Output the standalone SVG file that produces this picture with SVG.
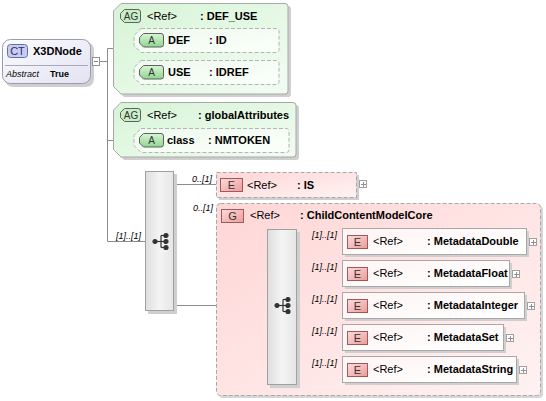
<svg xmlns="http://www.w3.org/2000/svg" width="546" height="401" viewBox="0 0 546 401">
<defs>
<linearGradient id="gCT" x1="0" y1="0" x2="1" y2="1"><stop offset="0" stop-color="#fcfcff"/><stop offset="1" stop-color="#e2e2f2"/></linearGradient>
<linearGradient id="gAG" x1="0" y1="0" x2="1" y2="1"><stop offset="0" stop-color="#d6f4d6"/><stop offset="1" stop-color="#f2fcf2"/></linearGradient>
<linearGradient id="gA" x1="0" y1="0" x2="1" y2="1"><stop offset="0" stop-color="#eefaee"/><stop offset="1" stop-color="#fbfffb"/></linearGradient>
<linearGradient id="gBadgeG" x1="0" y1="0" x2="0" y2="1"><stop offset="0" stop-color="#d8f4d8"/><stop offset="1" stop-color="#8ed68e"/></linearGradient>
<linearGradient id="gBadgeE" x1="0" y1="0" x2="1" y2="1"><stop offset="0" stop-color="#fcdcdc"/><stop offset="1" stop-color="#ee9a9a"/></linearGradient>
<linearGradient id="gPink" x1="0" y1="0" x2="1" y2="1"><stop offset="0" stop-color="#ffd6d6"/><stop offset="1" stop-color="#fff2f2"/></linearGradient>
<linearGradient id="gE" x1="0" y1="0" x2="1" y2="1"><stop offset="0" stop-color="#fff4f4"/><stop offset="1" stop-color="#ffffff"/></linearGradient>
<linearGradient id="gSeq" x1="0" y1="0" x2="1" y2="0"><stop offset="0" stop-color="#dedede"/><stop offset="0.5" stop-color="#f4f4f4"/><stop offset="1" stop-color="#e6e6e6"/></linearGradient>
<g id="seqIcon">
<line x1="0" y1="0" x2="6" y2="0"/><line x1="6" y1="-6" x2="6" y2="6"/>
<line x1="6" y1="-6" x2="11" y2="-6"/><line x1="6" y1="6" x2="11" y2="6"/><line x1="6" y1="0" x2="11" y2="0"/>
<circle cx="0" cy="0" r="2"/><circle cx="11" cy="-6" r="2"/><circle cx="11" cy="0" r="2"/><circle cx="11" cy="6" r="2"/>
</g>
<g id="plus"><rect x="0.5" y="0.5" width="7" height="7" fill="#fff" stroke="#a0a0a0"/><path d="M2,4.5 H7 M4.5,2 V7" stroke="#909090" fill="none"/></g>
</defs>
<style>
.t{font-family:"Liberation Sans",Arial,sans-serif;font-size:11px;fill:#000}
.b{font-weight:bold}
.m{font-family:"Liberation Sans",Arial,sans-serif;font-size:9px;font-style:italic;fill:#000}
.bt{font-family:"Liberation Sans",Arial,sans-serif;font-size:10px;fill:#333;text-anchor:middle}
.sh{fill:#cfcfcf}
.ln{stroke:#8c8c8c;stroke-width:1;fill:none}
.ag{fill:url(#gAG);stroke:#a8a8a8}
.ab{fill:url(#gA);stroke:#b4b4b4;stroke-dasharray:4,2}
.abadge{fill:url(#gBadgeG);stroke:#606060}
.ebadge{fill:url(#gBadgeE);stroke:#a05a5a}
.ebox{fill:url(#gE);stroke:#a8a8a8}
.seq{fill:url(#gSeq);stroke:#a0a0a0}
.icon{stroke:#333;fill:#333;stroke-width:1.2}
</style>

<g id="connectors" class="ln">
<path d="M99.5,61.5 H107.5"/>
<path d="M107.5,48.5 V241.5"/>
<path d="M107.5,48.5 H125.5"/>
<path d="M125.5,40.5 V72.5"/>
<path d="M125.5,40.5 H134 M125.5,72.5 H134"/>
<path d="M107.5,140.5 H134"/>
<path d="M107.5,241.5 H145"/>
<path d="M174,184.5 H216"/>
<path d="M174,305.5 H267"/>
<path d="M297,241.5 H342 M297,273.5 H342 M297,305.5 H342 M297,337.5 H342 M297,369.5 H342"/>
</g>

<g id="X3DNode">
<rect x="5" y="42" width="89" height="45" rx="8" class="sh"/>
<rect x="2.5" y="39.5" width="88" height="44" rx="8" fill="url(#gCT)" stroke="#9a9ab2"/>
<rect x="7.5" y="44.5" width="20" height="13" rx="3" fill="#c8ccf4" stroke="#6070a0"/>
<text x="17.5" y="55" class="bt" style="font-size:11px;fill:#303060">CT</text>
<text x="33" y="55" class="t b">X3DNode</text>
<line x1="5" y1="65.5" x2="88" y2="65.5" stroke="#a8a8bc"/>
<text x="6" y="77" class="m">Abstract</text>
<text x="50" y="77" class="t b" style="font-size:9px">True</text>
<rect x="92.5" y="57.5" width="7" height="8" fill="#fff" stroke="#909090"/>
<path d="M94,61.5 H98" stroke="#808080"/>
</g>

<g id="DEF_USE">
<path d="M124,6 H288 Q291,6 291,9 V94 Q291,97 288,97 H124 L116,89 V14 Z" class="sh"/>
<path d="M121,3.5 H285 Q288,3.5 288,6.5 V91 Q288,94 285,94 H121 L113.5,86.5 V11 Z" class="ag"/>
<path d="M124.5,9.5 H138 Q140.5,9.5 140.5,12 V20 Q140.5,22.5 138,22.5 H124.5 L120.5,18.5 V13.5 Z" fill="#c8eec8" stroke="#606060"/>
<text x="131" y="20" class="bt">AG</text>
<text x="147" y="20" class="t">&lt;Ref&gt;</text>
<text x="200" y="20" class="t b">: DEF_USE</text>
<g id="DEF">
<path d="M141,28.5 H276 Q279,28.5 279,31.5 V49.5 Q279,52.5 276,52.5 H141 L134,45.5 V35.5 Z" class="ab"/>
<path d="M143.5,33.5 H161 Q163.5,33.5 163.5,36 V44.5 Q163.5,47 161,47 H143.5 L139.5,43 V37.5 Z" class="abadge"/>
<text x="151.5" y="44" class="bt">A</text>
<text x="168" y="44" class="t b">DEF</text>
<text x="209" y="44" class="t b">: ID</text>
</g>
<g id="USE">
<path d="M141,60.5 H276 Q279,60.5 279,63.5 V81.5 Q279,84.5 276,84.5 H141 L134,77.5 V67.5 Z" class="ab"/>
<path d="M143.5,65.5 H161 Q163.5,65.5 163.5,68 V76.5 Q163.5,79 161,79 H143.5 L139.5,75 V69.5 Z" class="abadge"/>
<text x="151.5" y="76" class="bt">A</text>
<text x="168" y="76" class="t b">USE</text>
<text x="209" y="76" class="t b">: IDREF</text>
</g>
</g>

<g id="globalAttributes">
<path d="M124,105 H296 Q299,105 299,108 V157 Q299,160 296,160 H124 L116,152 V113 Z" class="sh"/>
<path d="M121,102.5 H293 Q296,102.5 296,105.5 V154 Q296,157 293,157 H121 L113.5,149.5 V110 Z" class="ag"/>
<path d="M124.5,108.5 H138 Q140.5,108.5 140.5,111 V119 Q140.5,121.5 138,121.5 H124.5 L120.5,117.5 V112.5 Z" fill="#c8eec8" stroke="#606060"/>
<text x="131" y="119" class="bt">AG</text>
<text x="147" y="119" class="t">&lt;Ref&gt;</text>
<text x="198" y="119" class="t b">: globalAttributes</text>
<g id="class">
<path d="M141,128.5 H286 Q289,128.5 289,131.5 V149.5 Q289,152.5 286,152.5 H141 L134,145.5 V135.5 Z" class="ab"/>
<path d="M143.5,133.5 H161 Q163.5,133.5 163.5,136 V144.5 Q163.5,147 161,147 H143.5 L139.5,143 V137.5 Z" class="abadge"/>
<text x="151.5" y="144" class="bt">A</text>
<text x="167" y="144" class="t b">class</text>
<text x="208" y="144" class="t b">: NMTOKEN</text>
</g>
</g>

<g id="sequence1">
<rect x="148" y="174" width="29" height="140" class="sh"/>
<rect x="145.5" y="171.5" width="28" height="139" class="seq"/>
<use href="#seqIcon" x="155" y="241.5" class="icon"/>
<text x="116" y="239" class="m">[1]..[1]</text>
</g>

<g id="IS">
<text x="192" y="182" class="m">0..[1]</text>
<rect x="219" y="175" width="140" height="25" class="sh"/>
<rect x="216.5" y="172.5" width="140" height="25" fill="url(#gPink)" stroke="#a8a8a8" stroke-dasharray="4,2"/>
<rect x="220.5" y="178.5" width="22" height="13" class="ebadge"/>
<text x="231.5" y="189" class="bt" style="font-size:11px">E</text>
<text x="247" y="189" class="t">&lt;Ref&gt;</text>
<text x="297" y="189" class="t b">: IS</text>
<use href="#plus" x="359" y="180"/>
</g>

<g id="ChildContentModelCore">
<text x="193" y="211" class="m">0..[1]</text>
<text x="237" y="302" class="m">[1]..[1]</text>
<rect x="219" y="206" width="324" height="192" rx="4" fill="#d6d6d6"/>
<rect x="216.5" y="203.5" width="324" height="192" rx="4" fill="url(#gPink)" stroke="#a8a8a8" stroke-dasharray="4,2"/>
<rect x="221.5" y="209.5" width="22" height="13" class="ebadge"/>
<text x="232.5" y="220" class="bt" style="font-size:11px">G</text>
<text x="250" y="219" class="t">&lt;Ref&gt;</text>
<text x="300" y="219" class="t b">: ChildContentModelCore</text>
<g id="sequence2">
<rect x="270" y="232" width="30" height="156" class="sh"/>
<rect x="267.5" y="229.5" width="29" height="155" class="seq"/>
<use href="#seqIcon" x="277" y="305.5" class="icon"/>
</g>
</g>

<g id="MetadataDouble">
<text x="312" y="238" class="m">[1]..[1]</text>
<rect x="345" y="231" width="184" height="26" class="sh"/>
<rect x="342.5" y="228.5" width="184" height="26" class="ebox"/>
<rect x="347.5" y="235.5" width="20" height="13" class="ebadge"/>
<text x="357.5" y="246" class="bt" style="font-size:11px">E</text>
<text x="373" y="245" class="t">&lt;Ref&gt;</text>
<text x="427" y="245" class="t b">: MetadataDouble</text>
<use href="#plus" x="529" y="238"/>
</g>

<g id="MetadataFloat">
<text x="312" y="270" class="m">[1]..[1]</text>
<rect x="345" y="263" width="167" height="26" class="sh"/>
<rect x="342.5" y="260.5" width="167" height="26" class="ebox"/>
<rect x="347.5" y="267.5" width="20" height="13" class="ebadge"/>
<text x="357.5" y="278" class="bt" style="font-size:11px">E</text>
<text x="373" y="277" class="t">&lt;Ref&gt;</text>
<text x="427" y="277" class="t b">: MetadataFloat</text>
<use href="#plus" x="512" y="270"/>
</g>

<g id="MetadataInteger">
<text x="312" y="302" class="m">[1]..[1]</text>
<rect x="345" y="295" width="182" height="26" class="sh"/>
<rect x="342.5" y="292.5" width="182" height="26" class="ebox"/>
<rect x="347.5" y="299.5" width="20" height="13" class="ebadge"/>
<text x="357.5" y="310" class="bt" style="font-size:11px">E</text>
<text x="373" y="309" class="t">&lt;Ref&gt;</text>
<text x="427" y="309" class="t b">: MetadataInteger</text>
<use href="#plus" x="527" y="302"/>
</g>

<g id="MetadataSet">
<text x="312" y="334" class="m">[1]..[1]</text>
<rect x="345" y="327" width="161" height="26" class="sh"/>
<rect x="342.5" y="324.5" width="161" height="26" class="ebox"/>
<rect x="347.5" y="331.5" width="20" height="13" class="ebadge"/>
<text x="357.5" y="342" class="bt" style="font-size:11px">E</text>
<text x="373" y="341" class="t">&lt;Ref&gt;</text>
<text x="427" y="341" class="t b">: MetadataSet</text>
<use href="#plus" x="506" y="334"/>
</g>

<g id="MetadataString">
<text x="312" y="366" class="m">[1]..[1]</text>
<rect x="345" y="359" width="174" height="26" class="sh"/>
<rect x="342.5" y="356.5" width="174" height="26" class="ebox"/>
<rect x="347.5" y="363.5" width="20" height="13" class="ebadge"/>
<text x="357.5" y="374" class="bt" style="font-size:11px">E</text>
<text x="373" y="373" class="t">&lt;Ref&gt;</text>
<text x="427" y="373" class="t b">: MetadataString</text>
<use href="#plus" x="519" y="366"/>
</g>
</svg>
